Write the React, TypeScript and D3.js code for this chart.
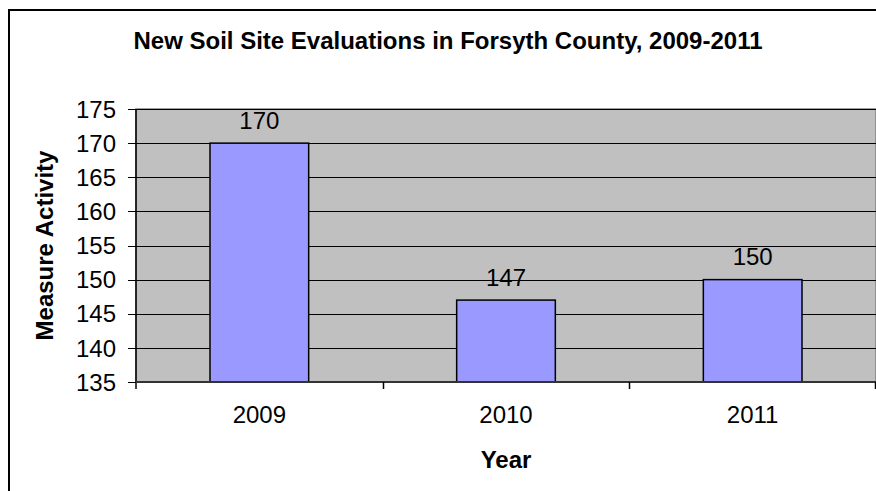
import React, { useRef, useEffect } from 'react';
import * as d3 from 'd3';

const years = ['2009', '2010', '2011'];
const values = [170, 147, 150];
const yTicks = [135, 140, 145, 150, 155, 160, 165, 170, 175];
const title = 'New Soil Site Evaluations in Forsyth County, 2009-2011';
const xTitle = 'Year';
const yTitle = 'Measure Activity';

const App: React.FC = () => {
  const svgRef = useRef<SVGSVGElement>(null);

  useEffect(() => {
    if (!svgRef.current) return;
    const svg = d3.select(svgRef.current);
    svg.selectAll('*').remove();

    const width = 876;
    const height = 491;
    const plot = { left: 136, right: 876, top: 109, bottom: 382 };
    const font = '"Liberation Sans", Arial, sans-serif';
    const fs = 24;

    svg.attr('width', width).attr('height', height).style('font-family', font);

    svg.append('rect').attr('width', width).attr('height', height).attr('fill', '#fff');

    // Outer chart border (cropped on right and bottom)
    svg
      .append('rect')
      .attr('x', 9)
      .attr('y', 10)
      .attr('width', width + 20)
      .attr('height', height + 20)
      .attr('fill', 'none')
      .attr('stroke', '#000')
      .attr('stroke-width', 2);

    const x = d3
      .scaleBand<string>()
      .domain(years)
      .range([plot.left, plot.right])
      .paddingInner(0.6)
      .paddingOuter(0.3);

    const y = d3.scaleLinear().domain([135, 175]).range([plot.bottom, plot.top]);

    // Plot area
    svg
      .append('rect')
      .attr('x', plot.left)
      .attr('y', plot.top)
      .attr('width', plot.right - plot.left)
      .attr('height', plot.bottom - plot.top)
      .attr('fill', '#C0C0C0')
      .attr('stroke', '#808080')
      .attr('stroke-width', 1.5);

    // Grid lines
    svg
      .append('g')
      .selectAll('line')
      .data(yTicks.slice(1))
      .enter()
      .append('line')
      .attr('x1', plot.left)
      .attr('x2', plot.right)
      .attr('y1', (d) => Math.round(y(d)) + 0.5)
      .attr('y2', (d) => Math.round(y(d)) + 0.5)
      .attr('stroke', '#000')
      .attr('stroke-width', 1);

    // Bars
    svg
      .append('g')
      .selectAll('rect')
      .data(values)
      .enter()
      .append('rect')
      .attr('x', (_, i) => x(years[i])!)
      .attr('y', (d) => y(d))
      .attr('width', x.bandwidth())
      .attr('height', (d) => plot.bottom - y(d))
      .attr('fill', '#9999FF')
      .attr('stroke', '#000')
      .attr('stroke-width', 1.5);

    // Data labels
    svg
      .append('g')
      .selectAll('text')
      .data(values)
      .enter()
      .append('text')
      .attr('x', (_, i) => x(years[i])! + x.bandwidth() / 2)
      .attr('y', (d) => y(d) - 14.5)
      .attr('text-anchor', 'middle')
      .attr('font-size', fs)
      .attr('fill', '#000')
      .text((d) => d);

    // Y axis
    const yAxis = svg.append('g');
    yAxis
      .append('line')
      .attr('x1', plot.left)
      .attr('x2', plot.left)
      .attr('y1', plot.top)
      .attr('y2', plot.bottom + 7)
      .attr('stroke', '#000')
      .attr('stroke-width', 1.5);
    yAxis
      .selectAll('line.tick')
      .data(yTicks)
      .enter()
      .append('line')
      .attr('class', 'tick')
      .attr('x1', plot.left - 8)
      .attr('x2', plot.left)
      .attr('y1', (d) => Math.round(y(d)) + 0.5)
      .attr('y2', (d) => Math.round(y(d)) + 0.5)
      .attr('stroke', '#000');
    yAxis
      .selectAll('text')
      .data(yTicks)
      .enter()
      .append('text')
      .attr('x', 116)
      .attr('y', (d) => y(d))
      .attr('dy', '0.36em')
      .attr('text-anchor', 'end')
      .attr('font-size', fs)
      .text((d) => d);

    // X axis
    const xAxis = svg.append('g');
    xAxis
      .append('line')
      .attr('x1', plot.left)
      .attr('x2', plot.right)
      .attr('y1', plot.bottom)
      .attr('y2', plot.bottom)
      .attr('stroke', '#333')
      .attr('stroke-width', 2);
    const bounds = years.map((yr) => x(yr)! - (x.step() * x.paddingInner()) / 2).concat([plot.right - 1]);
    xAxis
      .selectAll('line.tick')
      .data(bounds.slice(1))
      .enter()
      .append('line')
      .attr('class', 'tick')
      .attr('x1', (d) => Math.round(d) + 0.5)
      .attr('x2', (d) => Math.round(d) + 0.5)
      .attr('y1', plot.bottom)
      .attr('y2', plot.bottom + 7)
      .attr('stroke', '#000')
      .attr('stroke-width', 1.5);
    xAxis
      .selectAll('text')
      .data(years)
      .enter()
      .append('text')
      .attr('x', (d) => x(d)! + x.bandwidth() / 2)
      .attr('y', 423)
      .attr('text-anchor', 'middle')
      .attr('font-size', fs)
      .text((d) => d);

    // Titles
    svg
      .append('text')
      .attr('x', 448)
      .attr('y', 48.5)
      .attr('text-anchor', 'middle')
      .attr('font-size', fs)
      .attr('font-weight', 'bold')
      .text(title);

    svg
      .append('text')
      .attr('x', (plot.left + plot.right) / 2)
      .attr('y', 467.5)
      .attr('text-anchor', 'middle')
      .attr('font-size', fs)
      .attr('font-weight', 'bold')
      .text(xTitle);

    svg
      .append('text')
      .attr('transform', `translate(53,${(plot.top + plot.bottom) / 2}) rotate(-90)`)
      .attr('text-anchor', 'middle')
      .attr('font-size', fs)
      .attr('font-weight', 'bold')
      .text(yTitle);
  }, []);

  return <svg ref={svgRef} style={{ position: 'absolute', left: 0, top: 0, display: 'block' }}></svg>;
};

export default App;
